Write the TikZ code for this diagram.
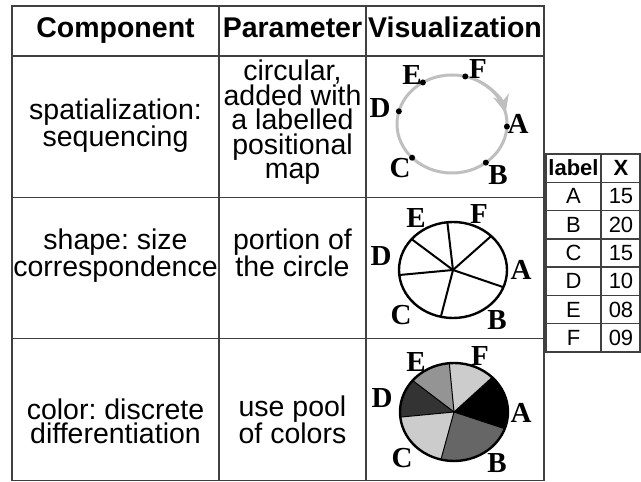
\documentclass[tikz,border=0pt]{standalone}
\usepackage{fontspec}
\setmainfont{Liberation Sans}
\newfontfamily\letterfont{Liberation Serif}
\usetikzlibrary{arrows.meta}
\frenchspacing

\tikzset{
  rule/.style={draw=black!75, line width=1.4pt},
  cell/.style={align=center, inner sep=0pt, anchor=base, font=\fontsize{28.5}{24.5}\selectfont},
  head/.style={cell, font=\fontsize{28.5}{24.5}\selectfont\bfseries},
  small/.style={inner sep=0pt, font=\fontsize{22}{22}\selectfont},
  smallhead/.style={small, font=\fontsize{22}{22}\selectfont\bfseries},
  letter/.style={inner sep=0pt, font=\letterfont\bfseries\fontsize{29}{29}\selectfont},
  seq/.style={draw=black!25, line width=3pt},
  pie/.style={draw=black, line width=2.4pt},
  spoke/.style={draw=black, line width=2pt},
}

\begin{document}
\begin{tikzpicture}[x=1pt, y=1pt]
  \useasboundingbox (0,0) rectangle (641,482);

  % Main table
  \draw[rule] (12,1.5) rectangle (544,476);
  \foreach \y in {426,284.5,143.5} \draw[rule] (12,\y) -- (544,\y);
  \foreach \x in {219,366} \draw[rule] (\x,1.5) -- (\x,476);

  % Header row
  \node[head] (hComp) at (115.5,444) {Component};
  \node[head] (hPar) at (292.5,444) {Parameter};
  \node[head] (hVis) at (455,444) {Visualization};

  % Components and parameters (anchored on the last baseline)
  \node[cell] (cSeq) at (115.5,335) {spatialization:\\sequencing};
  \node[cell] (pSeq) at (292.5,303) {circular,\\added with\\a labelled\\positional\\map};
  \node[cell] (cShape) at (115.5,205) {shape: size\\correspondence};
  \node[cell] (pShape) at (292.5,205) {portion of\\the circle};
  \node[cell] (cCol) at (115.5,38) {color: discrete\\differentiation};
  \node[cell] (pCol) at (292.5,38) {use pool\\of colors};

  % Data table
  \draw[rule] (546,130) rectangle (640,328);
  \foreach \i in {1,...,6} \draw[rule] (546,{328-28.29*\i}) -- (640,{328-28.29*\i});
  \draw[rule] (601,130) -- (601,328);
  \node[smallhead] (tLabel) at (573.5,313.9) {label};
  \node[smallhead] (tX) at (621,313.9) {X};
  \foreach \k/\v [count=\i] in {A/15,B/20,C/15,D/10,E/08,F/09} {
    \node[small] (k\k) at (573.5,{328-28.29*(\i+0.5)}) {\k};
    \node[small] (v\k) at (621,{328-28.29*(\i+0.5)}) {\v};
  }

  % Sequencing circle
  \coordinate (seqC) at (452,358);
  \draw[seq] (seqC) ellipse [x radius=55, y radius=49];
  \draw[seq, -{Stealth[length=18pt, width=16pt]}] (seqC) ++(60:55 and 49)
    arc[start angle=60, end angle=13, x radius=55, y radius=49];
  \foreach \t in {122,76,165,-3,-52,223.5}
    \fill (seqC) ++(\t:55 and 49) circle (3);
  \node[letter] (sE) at (412,407) {E};
  \node[letter] (sF) at (478,413) {F};
  \node[letter] (sD) at (380,374) {D};
  \node[letter] (sA) at (518,358) {A};
  \node[letter] (sB) at (498,307) {B};
  \node[letter] (sC) at (400,314) {C};

  % Size pie
  \coordinate (pieS) at (453,212);
  \foreach \t in {96,45,-21,-103,186,140}
    \draw[spoke] (pieS) -- ++(\t:54 and 48);
  \draw[pie] (pieS) ellipse [x radius=54, y radius=48];
  \node[letter] (zE) at (416,264) {E};
  \node[letter] (zF) at (479,268) {F};
  \node[letter] (zD) at (381,226) {D};
  \node[letter] (zA) at (521,212) {A};
  \node[letter] (zB) at (497,162) {B};
  \node[letter] (zC) at (401,167) {C};

  % Colour pie
  \coordinate (pieC) at (454,70);
  \foreach \a/\b/\tone in {-20/45/black, 45/95/black!20, 95/140/black!42,
      140/186/black!80, 186/256/black!20, 256/340/black!60}
    \fill[\tone] (pieC) -- ++(\a:54 and 49)
      arc[start angle=\a, end angle=\b, x radius=54, y radius=49] -- cycle;
  \foreach \t in {95,45,-20,-104,186,140}
    \draw[black, line width=1pt] (pieC) -- ++(\t:54 and 49);
  \draw[pie] (pieC) ellipse [x radius=54, y radius=49];
  \node[letter] (cE) at (416,120) {E};
  \node[letter] (cF) at (480,126) {F};
  \node[letter] (cD) at (382,84) {D};
  \node[letter] (cA) at (521,69) {A};
  \node[letter] (cB) at (497,19) {B};
  \node[letter] (cC) at (402,24) {C};
\end{tikzpicture}
\end{document}
